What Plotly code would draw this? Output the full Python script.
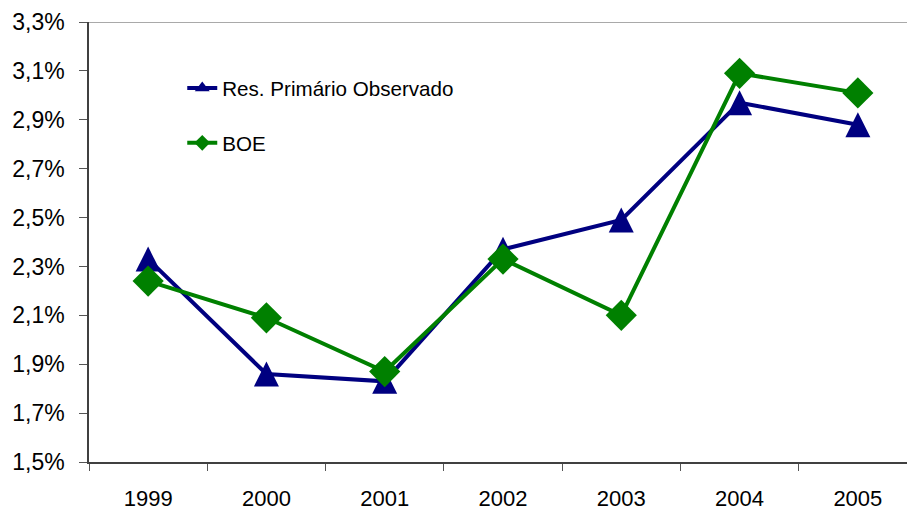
import plotly.graph_objects as go

# Annual values, % of GDP
years = ["1999", "2000", "2001", "2002", "2003", "2004", "2005"]
res_primario = [2.33, 1.86, 1.83, 2.37, 2.49, 2.97, 2.88]
boe = [2.24, 2.09, 1.87, 2.33, 2.10, 3.09, 3.01]
series_names = ["Res. Primário Observado", "BOE"]

y_ticks = [1.5, 1.7, 1.9, 2.1, 2.3, 2.5, 2.7, 2.9, 3.1, 3.3]
y_tick_text = ["1,5%", "1,7%", "1,9%", "2,1%", "2,3%", "2,5%", "2,7%", "2,9%", "3,1%", "3,3%"]

NAVY = "#000080"
GREEN = "#008000"
FONT = "Liberation Sans, Arial, sans-serif"
TRI = 25

fig = go.Figure()
# tall triangles centred on each point (arrow shape rotated, pushed back by half its height)
fig.add_trace(go.Scatter(
    x=years, y=res_primario, name=series_names[0], showlegend=False,
    mode="lines+markers",
    line=dict(color=NAVY, width=4, backoff=0),
    marker=dict(symbol="arrow-down", angle=180, size=TRI, standoff=TRI / 2,
                color=NAVY, line=dict(width=0)),
))
fig.add_trace(go.Scatter(
    x=years, y=boe, name=series_names[1], showlegend=False,
    mode="lines+markers",
    line=dict(color=GREEN, width=4),
    marker=dict(symbol="diamond", size=24, color=GREEN, line=dict(width=0)),
))

# legend entries (no data of their own) with small key symbols
fig.add_trace(go.Scatter(
    x=[None], y=[None], name=series_names[0], legendgroup="a",
    mode="lines+markers", line=dict(color=NAVY, width=4),
    marker=dict(symbol="triangle-up", size=13, color=NAVY, line=dict(width=0)),
))
fig.add_trace(go.Scatter(
    x=[None], y=[None], name=series_names[1], legendgroup="b",
    mode="lines+markers", line=dict(color=GREEN, width=4),
    marker=dict(symbol="diamond", size=12, color=GREEN, line=dict(width=0)),
))

# thin grey frame line along the top of the plotting area
fig.add_shape(type="line", xref="paper", yref="y", x0=0, x1=1, y0=3.3, y1=3.3,
              line=dict(color="#8c8c8c", width=1.5), layer="below")

fig.update_layout(
    width=907, height=511,
    margin=dict(l=89, r=0, t=22, b=49),
    paper_bgcolor="white", plot_bgcolor="white",
    font=dict(family=FONT, size=22, color="black"),
    showlegend=True,
    legend=dict(x=0.114, y=0.895, xanchor="left", yanchor="top",
                font=dict(size=20.6, family=FONT), bgcolor="rgba(0,0,0,0)",
                tracegroupgap=25, itemsizing="trace"),
    xaxis=dict(
        type="category", range=[-0.5, 6.4155],
        showgrid=False, zeroline=False,
        showline=True, linecolor="#404040", linewidth=1.5,
        ticks="outside", tickson="boundaries", ticklen=7, tickcolor="#555555",
        ticklabelstandoff=16,
        tickfont=dict(size=22, family=FONT),
    ),
    yaxis=dict(
        range=[1.5, 3.3], tickvals=y_ticks, ticktext=y_tick_text,
        showgrid=False, zeroline=False,
        showline=True, linecolor="#404040", linewidth=1.5,
        ticks="outside", ticklen=8, tickcolor="#555555",
        ticklabelstandoff=10,
        tickfont=dict(size=23, family=FONT),
    ),
)

fig.write_html("out.html")
